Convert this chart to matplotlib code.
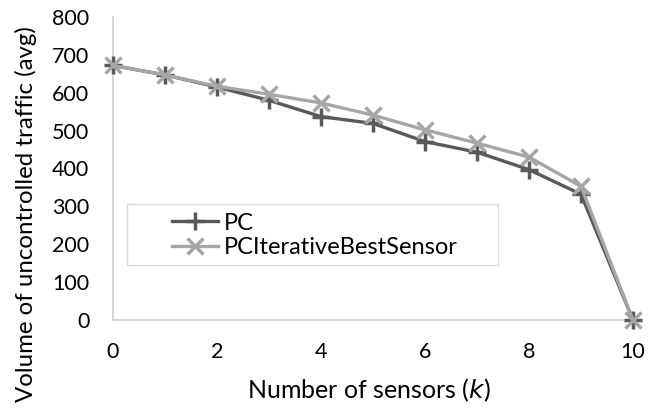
import matplotlib
matplotlib.use("Agg")
import matplotlib.pyplot as plt
from matplotlib.patches import Rectangle

# data
k = [0, 1, 2, 3, 4, 5, 6, 7, 8, 9, 10]
pc = [672, 647, 615, 580, 537, 519, 471, 443, 397, 332, 0]
pc_iter = [672, 647, 617, 596, 573, 541, 502, 467, 430, 353, 0]

plt.rcParams['font.family'] = ['Lato', 'DejaVu Sans']

fig = plt.figure(figsize=(6.62, 4.12), dpi=100)
ax = fig.add_axes([113 / 662, 92 / 412, 520 / 662, 303 / 412])

ax.plot(k, pc, color='#595959', lw=2.4, marker='+', ms=13, mew=2.5,
        label='PC', clip_on=False, zorder=3)
ax.plot(k, pc_iter, color='#a6a6a6', lw=2.4, marker='x', ms=11, mew=2.5,
        label='PCIterativeBestSensor', clip_on=False, zorder=3)

ax.set_xlim(0, 10)
ax.set_ylim(0, 800)
ax.set_xticks(range(0, 11, 2))
ax.set_yticks(range(0, 801, 100))
ax.tick_params(length=0, labelsize=15.5, colors='black')
ax.tick_params(axis='y', pad=17)
ax.tick_params(axis='x', pad=16)

for s in ['top', 'right']:
    ax.spines[s].set_visible(False)
for s in ['left', 'bottom']:
    ax.spines[s].set_color('#d0d0d0')
    ax.spines[s].set_linewidth(1.2)

ax.set_xlabel('Number of sensors ($\\it{k}$)', fontsize=18, va='top')
ax.xaxis.set_label_coords(0.492, -0.188)
ax.set_ylabel('Volume of uncontrolled traffic (avg)', fontsize=17.3)
ax.yaxis.set_label_coords(-0.146, 0.35)

# legend frame drawn separately so the inner padding looks like the original
ax.add_patch(Rectangle((0.027, 0.182), 0.713, 0.201, transform=ax.transAxes,
                       fill=True, facecolor='white', edgecolor='#d9d9d9',
                       lw=1.0, zorder=4, clip_on=False))
leg = ax.legend(loc='center left', bbox_to_anchor=(0.113, 0.279), borderaxespad=0,
                borderpad=0, fontsize=17, frameon=False, handlelength=1.95,
                handletextpad=0.25, labelspacing=0.15)
leg.set_zorder(5)

fig.savefig('out.png', dpi=100)
